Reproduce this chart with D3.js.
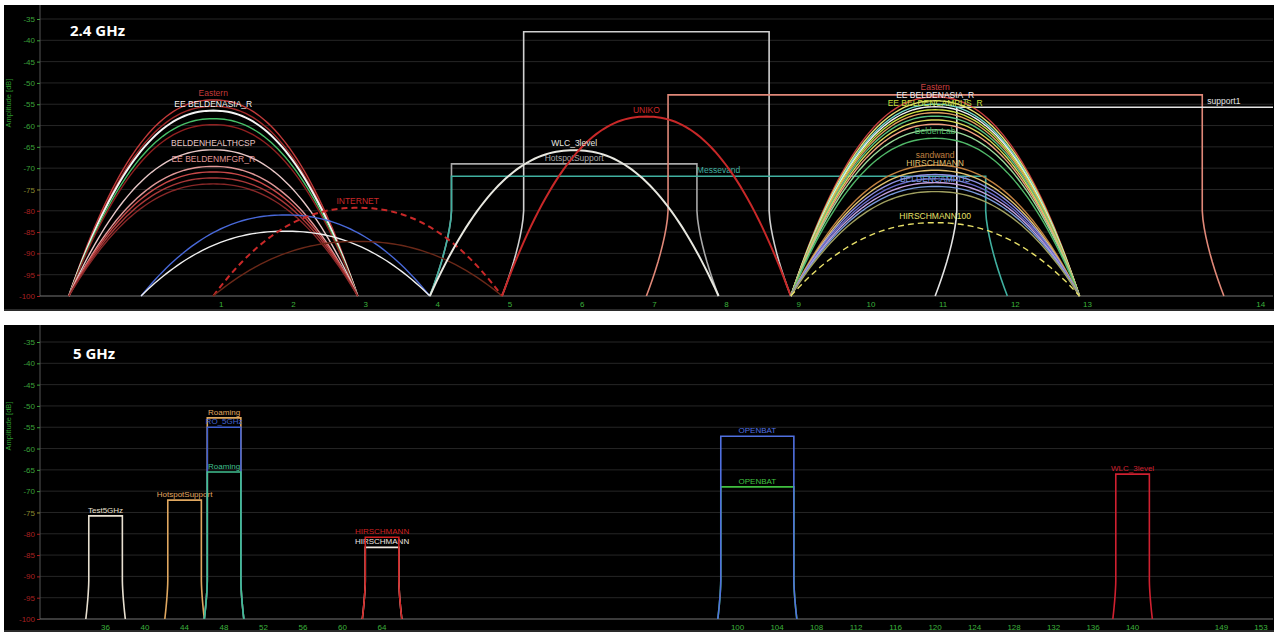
<!DOCTYPE html>
<html>
<head>
<meta charset="utf-8">
<script src="https://cdn.jsdelivr.net/npm/d3@7"></script>
<style>
  body { margin: 0; background: #fff; }
  text { font-family: "Liberation Sans", "DejaVu Sans", sans-serif; }
</style>
</head>
<body>
<svg id="chart" width="1274" height="634"></svg>
<script>
// ---- data ----
const dbTicks = [-35, -40, -45, -50, -55, -60, -65, -70, -75, -80, -85, -90, -95, -100];
const channels24 = [1, 2, 3, 4, 5, 6, 7, 8, 9, 10, 11, 12, 13, 14];
const channels5 = [36, 40, 44, 48, 52, 56, 60, 64, 100, 104, 108, 112, 116, 120, 124, 128, 132, 136, 140, 149, 153];

// 2.4 GHz networks drawn as 20 MHz arches
const arch24Channel = [1, 1, 1, 1, 1, 1, 1, 1, 1, 1,
  2, 2, 3, 3, 6, 7,
  11, 11, 11, 11, 11, 11, 11, 11, 11, 11, 11, 11, 11, 11, 11, 11, 11, 11, 11];
const arch24Peak = [-54.0, -55.5, -56.5, -58.4, -59.8, -65.7, -69.6, -70.9, -72.3, -73.7,
  -81.0, -84.8, -79.3, -87.2, -65.8, -57.9,
  -53.3, -54.2, -55.0, -55.6, -56.3, -57.0, -57.8, -58.7, -59.7, -61.0, -63.0,
  -69.3, -70.5, -71.5, -72.5, -73.4, -74.3, -75.5, -82.8];
const arch24Name = ['Eastern', '', 'EE BELDENASIA_R', '', '', 'BELDENHEALTHCSP', 'EE BELDENMFGR_R', '', '', '',
  '', '', 'INTERNET', '', 'WLC_3level', 'UNIKO',
  'Eastern', '', '', 'EE BELDENASIA_R', 'EE BELDENCAMPUS_R', '', '', '', '', '', 'BeldenLab',
  'sandwand', 'HIRSCHMANN', '', '', '', 'BELDENCAMPUS', '', 'HIRSCHMANN100'];

// 2.4 GHz networks drawn as boxes (centre MHz, width MHz, top dB)
const box24Center = [2442, 2437, 2447, 2462, 2482];
const box24Width = [20, 20, 40, 40, 40];
const box24Top = [-38.0, -69.0, -71.9, -52.8, -55.7];
const box24Name = ['', 'HotspotSupport', 'Messevand', '', 'support1'];

// 5 GHz networks drawn as boxes
const box5Center = [5180, 5220, 5240, 5240, 5240, 5320, 5320, 5510, 5510, 5700];
const box5Width = [20, 20, 20, 20, 20, 20, 20, 40, 40, 20];
const box5Top = [-75.8, -72.1, -52.8, -55.0, -65.5, -83.2, -80.8, -69.0, -57.1, -66.0];
const box5Name = ['Test5GHz', 'HotspotSupport', 'Roaming', 'RO_5GHz', 'Roaming', 'HIRSCHMANN', 'HIRSCHMANN', 'OPENBAT', 'OPENBAT', 'WLC_3level'];

// ---- styles ----
const arch24Color = ['#c03a3a', '#a02828', '#f4f4f4', '#48c068', '#902020', '#e8c8c8', '#e09898', '#c84848', '#a83838', '#882828',
  '#4868d8', '#f0f0f0', '#c82828', '#6a2818', '#e8e8e0', '#c82828',
  '#c84040', '#e8e070', '#70d8c8', '#f0f0f0', '#c8e040', '#e0a060', '#58c080', '#d8d858', '#f0a080', '#98d898', '#50b868',
  '#c08040', '#e0c070', '#9090e0', '#6a6ac8', '#c0a0e0', '#7898d8', '#a0a060', '#e8e068'];
const arch24Dashed = arch24Name.map((n, i) => i === 12 || i === 34);
const arch24Wide = arch24Name.map((n, i) => i === 2 || i === 14 || i === 15 || i === 12);
const box24Color = ['#d0d0d0', '#a8a8a8', '#40b0a0', '#e08878', '#e4e4e4'];
const box5Color = ['#e8e0d0', '#e0a860', '#e0a860', '#4060d0', '#40c090', '#f0e8e0', '#d02020', '#40c040', '#5070e0', '#d02030'];

const chFreq24 = ch => ch === 14 ? 2484 : 2407 + 5 * ch;
const chFreq5 = ch => 5000 + 5 * ch;

const svg = d3.select('#chart');

function tickColor(v) {
  if (v >= -70) return '#3aa03a';
  if (v === -75) return '#8a8a30';
  return '#a82020';
}

function makePanel(opt) {
  const g = svg.append('g');
  g.append('rect')
    .attr('x', 4).attr('y', opt.y0)
    .attr('width', 1270).attr('height', opt.y1 - opt.y0)
    .attr('fill', '#000');

  const x = d3.scaleLinear().domain(opt.xDomain).range([40, 1273]);
  const y = d3.scaleLinear().domain([-100, -35]).range([opt.yBase, opt.yTop]);

  // grid
  g.append('g').selectAll('line')
    .data(dbTicks.filter(d => d > -100))
    .join('line')
    .attr('x1', 40).attr('x2', 1273)
    .attr('y1', d => y(d)).attr('y2', d => y(d))
    .attr('stroke', '#262626');

  const yAxis = g.append('g')
    .attr('transform', 'translate(40,0)')
    .call(d3.axisLeft(y).tickValues(dbTicks).tickSize(3).tickPadding(2).tickFormat(d => d));
  yAxis.select('.domain').attr('stroke', '#555').attr('d', `M0,${opt.y0}V${opt.yBase}`);
  yAxis.selectAll('.tick line').attr('stroke', d => tickColor(d));
  yAxis.selectAll('.tick text')
    .attr('fill', d => tickColor(d))
    .style('font-size', '8px');

  g.append('text')
    .attr('transform', `translate(11,${opt.yTop + 84}) rotate(-90)`)
    .attr('text-anchor', 'middle')
    .attr('fill', '#2e9a2e')
    .style('font-size', '7.5px')
    .text('Amplitude [dB]');

  // baseline
  g.append('line')
    .attr('x1', 40).attr('x2', 1273)
    .attr('y1', opt.yBase).attr('y2', opt.yBase)
    .attr('stroke', '#777');

  g.append('line')
    .attr('x1', 4).attr('x2', 1274)
    .attr('y1', opt.y1 - 1).attr('y2', opt.y1 - 1)
    .attr('stroke', '#555');

  // channel labels
  g.append('g').selectAll('text')
    .data(opt.channels)
    .join('text')
    .attr('x', d => x(opt.freq(d)) + opt.labelDx)
    .attr('y', opt.yBase + 11)
    .attr('text-anchor', 'middle')
    .attr('fill', '#3cb03c')
    .style('font-size', '8px')
    .text(d => d);

  g.append('text')
    .attr('x', opt.titleX).attr('y', opt.yTop + 17)
    .attr('fill', '#fff')
    .style('font-family', '"Open Sans", "DejaVu Sans", sans-serif')
    .style('font-weight', 'bold')
    .style('font-size', '15px')
    .text(opt.title);

  const plot = g.append('g');
  return { g: plot, x, y, kink: opt.kink };
}

// box shape: vertical sides that flare out to the base below the kink
function boxPoints(c, w, top, kinkDb) {
  const kink = Math.min(kinkDb, top - 3), inset = 1.5;
  const pts = [];
  const side = [];
  for (let i = 0; i <= 10; i++) {
    const t = i / 10;
    side.push({ off: inset * Math.pow(t, 1.5), db: kink + (-100 - kink) * t });
  }
  const inL = c - w / 2 + inset, inR = c + w / 2 - inset;
  side.slice().reverse().forEach(p => pts.push([inL - p.off, p.db]));
  pts.push([inL, top]);
  pts.push([inR, top]);
  side.forEach(p => pts.push([inR + p.off, p.db]));
  return pts;
}

function archPoints(c, peak) {
  const pts = [];
  for (let f = -10; f <= 10.001; f += 0.25) {
    const u = Math.abs(f) / 10;
    pts.push([c + f, -100 + (peak + 100) * (1 - Math.pow(u, 2.2))]);
  }
  return pts;
}

function drawBoxes(p, centers, widths, tops, names, colors, fontSize) {
  const line = d3.line().x(d => p.x(d[0])).y(d => p.y(d[1]));
  const right = p.x.range()[1];
  centers.forEach((c, i) => {
    p.g.append('path')
      .attr('d', line(boxPoints(c, widths[i], tops[i], p.kink)))
      .attr('fill', 'none')
      .attr('stroke', colors[i])
      .attr('stroke-width', 1.6);
    if (names[i]) {
      const t = p.g.append('text')
        .attr('y', p.y(tops[i]) - 3)
        .attr('text-anchor', 'middle')
        .attr('fill', colors[i])
        .style('font-size', fontSize)
        .text(names[i]);
      const half = t.node().getComputedTextLength() / 2;
      t.attr('x', Math.min(p.x(c), right - half - 3));
    }
  });
}

// ---- 2.4 GHz panel ----
const p24 = makePanel({
  y0: 5, y1: 311, yTop: 19, yBase: 296,
  xDomain: [2400, 2485.4], kink: -80,
  channels: channels24, freq: chFreq24, labelDx: 8,
  title: '2.4 GHz', titleX: 70
});
svg.append('clipPath').attr('id', 'clip24')
  .append('rect').attr('x', 40).attr('y', 5).attr('width', 1233).attr('height', 306);
p24.g.attr('clip-path', 'url(#clip24)');

drawBoxes(p24, box24Center, box24Width, box24Top, box24Name, box24Color, '8.5px');

const archLine = d3.line().x(d => p24.x(d[0])).y(d => p24.y(d[1]));
arch24Channel.forEach((ch, i) => {
  p24.g.append('path')
    .attr('d', archLine(archPoints(chFreq24(ch), arch24Peak[i])))
    .attr('fill', 'none')
    .attr('stroke', arch24Color[i])
    .attr('stroke-width', arch24Wide[i] ? 2 : 1.4)
    .attr('stroke-dasharray', arch24Dashed[i] ? '6,4' : null);
});

// labels above each arch, stacked upwards where they would collide
const archLabels = arch24Channel
  .map((ch, i) => ({ ch, i, y: p24.y(arch24Peak[i]) - 4 }))
  .filter(d => arch24Name[d.i])
  .sort((a, b) => b.y - a.y);
const lastY = {};
archLabels.forEach(d => {
  if (lastY[d.ch] !== undefined && lastY[d.ch] - d.y < 8) d.y = lastY[d.ch] - 8;
  lastY[d.ch] = d.y;
});
p24.g.append('g').selectAll('text')
  .data(archLabels)
  .join('text')
  .attr('x', d => p24.x(chFreq24(d.ch)))
  .attr('y', d => d.y)
  .attr('text-anchor', 'middle')
  .attr('fill', d => arch24Color[d.i])
  .style('font-size', '8.5px')
  .text(d => arch24Name[d.i]);

// ---- 5 GHz panel ----
const p5 = makePanel({
  y0: 325, y1: 632, yTop: 342, yBase: 619,
  xDomain: [5146.8, 5771.1], kink: -91,
  channels: channels5, freq: chFreq5, labelDx: 0,
  title: '5 GHz', titleX: 73
});
drawBoxes(p5, box5Center, box5Width, box5Top, box5Name, box5Color, '8px');
</script>
</body>
</html>
